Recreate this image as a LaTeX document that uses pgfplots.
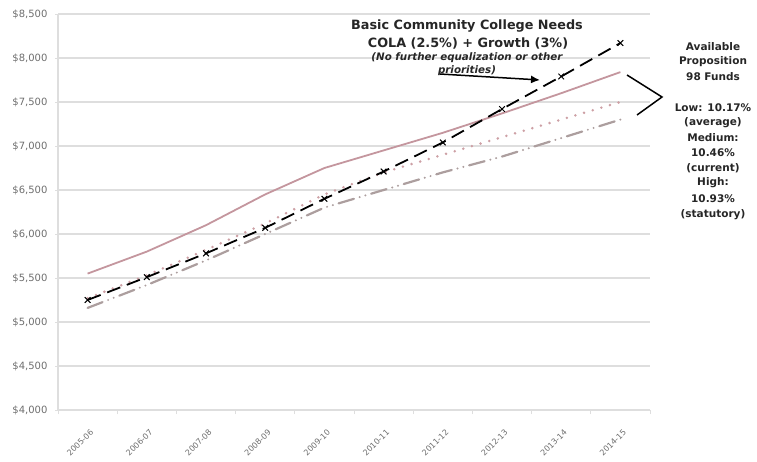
\documentclass[border=0pt]{standalone}
\usepackage{pgfplots}
\pgfplotsset{compat=1.18}
\usetikzlibrary{arrows.meta}
\usepackage{fontspec}
\setmainfont{DejaVu Sans}
\definecolor{rose}{RGB}{196,150,158}
\definecolor{rosedot}{RGB}{205,160,165}
\definecolor{grayrose}{RGB}{172,158,158}
\definecolor{gridc}{RGB}{222,222,222}
\definecolor{tickc}{RGB}{110,110,110}
\begin{document}
\begin{tikzpicture}[x=1pt,y=1pt]
\useasboundingbox (0,0) rectangle (757,461);
\begin{axis}[
  at={(58pt,51pt)}, anchor=south west,
  width=592pt, height=396pt, scale only axis,
  xmin=-0.5, xmax=9.5, ymin=4000, ymax=8500,
  xtick={0,...,9},
  xticklabels={2005-06,2006-07,2007-08,2008-09,2009-10,2010-11,2011-12,2012-13,2013-14,2014-15},
  x tick label style={rotate=45, anchor=north east, font=\fontsize{8}{9}\selectfont, text=tickc, xshift=-6pt, yshift=-9pt},
  minor xtick={-0.5,0.5,...,9.5},
  major x tick style={draw=none},
  minor x tick style={gridc, line width=1pt},
  minor tick length=4pt,
  ytick={4000,4500,5000,5500,6000,6500,7000,7500,8000,8500},
  yticklabels={{\$4,000},{\$4,500},{\$5,000},{\$5,500},{\$6,000},{\$6,500},{\$7,000},{\$7,500},{\$8,000},{\$8,500}},
  y tick label style={font=\fontsize{10}{11}\selectfont, text=tickc, xshift=-4pt},
  ymajorgrids, grid style={gridc, line width=1.2pt},
  axis x line*=bottom, axis y line*=left,
  axis line style={gridc, line width=1.2pt},
  major y tick style={gridc, line width=1pt},
  major tick length=3pt,
  xtick pos=bottom, ytick pos=left,
  tick align=outside,
  clip=false,
]
% Prop 98 upper (solid rose)
\addplot[rose, line width=1.8pt, no marks] coordinates {
(0,5550) (1,5800) (2,6100) (3,6450) (4,6750) (5,6950) (6,7150) (7,7370) (8,7600) (9,7840)};
% medium (dotted rose)
\addplot[rosedot, line width=2.8pt, line cap=round, dash pattern=on 0pt off 9pt, no marks] coordinates {
(0,5270) (1,5530) (2,5820) (3,6120) (4,6450) (5,6700) (6,6900) (7,7100) (8,7300) (9,7500)};
% low (dash dot dot gray)
\addplot[grayrose, line width=2.2pt, line cap=round, dash pattern=on 16pt off 6pt on 0pt off 6pt on 0pt off 6pt, no marks] coordinates {
(0,5160) (1,5420) (2,5700) (3,6000) (4,6300) (5,6500) (6,6700) (7,6880) (8,7090) (9,7300)};
% needs (black dashed with x)
\addplot[black, line width=1.8pt, dash pattern=on 14pt off 7pt, mark=x, mark size=4pt, mark options={solid, line width=1pt}] coordinates {
(0,5250) (1,5510) (2,5780) (3,6070) (4,6400) (5,6710) (6,7040) (7,7420) (8,7790) (9,8170)};
\end{axis}
% annotations
\node[font=\bfseries\fontsize{12.8}{14}\selectfont, text=black!85] at (467,435) {Basic Community College Needs};
\node[font=\bfseries\fontsize{12.8}{14}\selectfont, text=black!85] at (468,418) {COLA (2.5\%) + Growth (3\%)};
\node[font=\bfseries\itshape\fontsize{10.3}{11}\selectfont, text=black!85] at (467,403) {(No further equalization or other};
\node[font=\bfseries\itshape\fontsize{10.3}{11}\selectfont, text=black!85] at (467,390) {priorities)};
\draw[-{Latex[length=9pt,width=8pt]}, line width=1.5pt] (440,387) -- (540,381);
\draw[line width=1.5pt] (627,386) -- (662,364) -- (637,346);
\begin{scope}[font=\bfseries\fontsize{10.5}{12}\selectfont, text=black!85]
\node at (713,414) {Available};
\node at (713,399) {Proposition};
\node at (713,384) {98 Funds};
\node at (713,353) {Low: 10.17\%};
\node at (713,338) {(average)};
\node at (713,323) {Medium:};
\node at (713,308) {10.46\%};
\node at (713,293) {(current)};
\node at (713,278) {High:};
\node at (713,262) {10.93\%};
\node at (713,246) {(statutory)};
\end{scope}
\end{tikzpicture}
\end{document}
